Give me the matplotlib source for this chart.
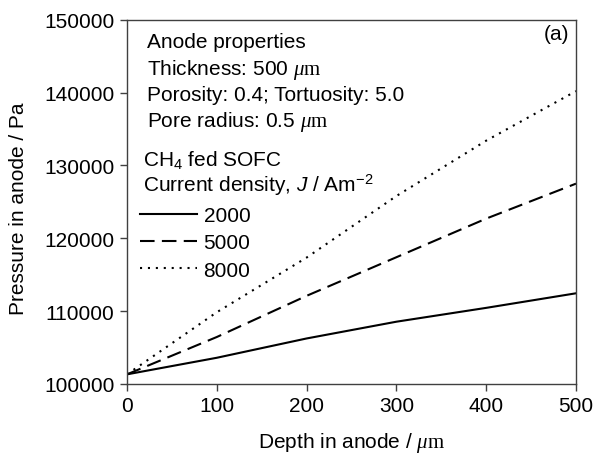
import matplotlib
matplotlib.use("Agg")
import matplotlib.pyplot as plt

plt.rcParams['font.family'] = ['Liberation Sans', 'DejaVu Sans']
plt.rcParams['mathtext.fontset'] = 'custom'
plt.rcParams['mathtext.rm'] = 'Liberation Serif'
plt.rcParams['mathtext.it'] = 'Liberation Serif:italic'
plt.rcParams['mathtext.sf'] = 'Liberation Sans:italic'
plt.rcParams['mathtext.bf'] = 'Liberation Sans'

# Data
depth = [0, 100, 200, 300, 400, 500]
p_2000 = [101325, 103600, 106250, 108550, 110450, 112450]
p_5000 = [101325, 106450, 112100, 117400, 122700, 127500]
p_8000 = [101325, 109850, 117350, 125800, 133400, 140200]
series_labels = ['2000', '5000', '8000']

x_ticks = [0, 100, 200, 300, 400, 500]
y_ticks = [100000, 110000, 120000, 130000, 140000, 150000]

FS = 15
spine_c = '#404040'

fig = plt.figure(figsize=(5.95, 4.60), dpi=100)
ax = fig.add_axes([127/595, 1-385/460, 449/595, 364.3/460])

l1, = ax.plot(depth, p_2000, color='black', lw=1.5, ls='-')
l2, = ax.plot(depth, p_5000, color='black', lw=1.5, ls=(0, (7, 3.5)))
l3, = ax.plot(depth, p_8000, color='black', lw=1.5, ls=(0, (1, 2.8)))

ax.set_xlim(0, 500)
ax.set_ylim(100000, 150000)
ax.set_xticks(x_ticks)
ax.set_yticks(y_ticks)
ax.set_xticklabels([str(v) for v in x_ticks])
ax.set_yticklabels([str(v) for v in y_ticks])
ax.tick_params(direction='out', length=5, width=1, color=spine_c,
               labelsize=FS, labelcolor='black', pad=4)
for s in ax.spines.values():
    s.set_color(spine_c)
    s.set_linewidth(1)

ax.set_xlabel(r'Depth in anode / $\mu\mathrm{m}$', fontsize=FS)
ax.xaxis.set_label_coords(0.5, -0.159)
ax.xaxis.label.set_va('center')
ax.set_ylabel('Pressure in anode / Pa', fontsize=FS)
ax.yaxis.set_label_coords(-0.2416, 0.4845)
ax.yaxis.label.set_va('center')

tx = 0.044
texts = [
    (tx, 0.925, 'Anode properties'),
    (tx, 0.851, r'Thickness: 500 $\mu\mathrm{m}$'),
    (tx, 0.7796, 'Porosity: 0.4; Tortuosity: 5.0'),
    (tx, 0.708, r'Pore radius: 0.5 $\mu\mathrm{m}$'),
    (0.035, 0.601, r'CH$_{\mathbf{4}}$ fed SOFC'),
    (0.035, 0.530, r'Current density, $\mathsf{J}$ / Am$^{\mathbf{-2}}$'),
]
for x, y, t in texts:
    ax.text(x, y, t, transform=ax.transAxes, fontsize=FS, va='baseline', ha='left')

ax.text(0.9566, 0.9608, '(a)', transform=ax.transAxes, fontsize=FS,
        va='center', ha='center')

leg = ax.legend([l1, l2, l3], series_labels, loc='upper left',
                bbox_to_anchor=(0.029, 0.489), frameon=False, fontsize=FS,
                handlelength=2.75, handletextpad=0.3, labelspacing=0.4,
                borderaxespad=0, borderpad=0.0)

fig.savefig('out.png', dpi=100)
